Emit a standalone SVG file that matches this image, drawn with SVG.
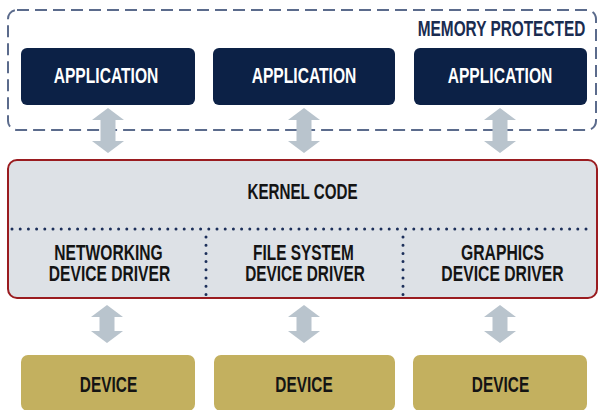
<svg xmlns="http://www.w3.org/2000/svg" width="599" height="410" viewBox="0 0 599 410">
  <style>
    .t { font-family: "Liberation Sans", Arial, sans-serif; font-weight: bold; font-size: 22px; text-anchor: middle; }
    .app rect { fill: #0c2146; }
    .app text { fill: #ffffff; }
    .dev rect { fill: #c3b05f; }
    .dev text, .drv text, #kernel text { fill: #141414; }
    .arrow { fill: #b9c4cd; }
    .dots { stroke: #1c2f5a; stroke-width: 3; stroke-linecap: round; stroke-dasharray: 0 8.2; fill: none; }
  </style>

  <g id="memory-protected">
    <rect x="8" y="10" width="588" height="120" rx="9" fill="none" stroke="#5b6b8c" stroke-width="2" stroke-dasharray="12 6"/>
    <text class="t" transform="translate(501.5 36) scale(0.70 1)" style="fill:#1a2c50">MEMORY PROTECTED</text>
  </g>

  <g id="kernel">
    <rect x="8" y="160" width="589" height="138" rx="9" fill="#dde1e6" stroke="#9a1c20" stroke-width="2"/>
    <text class="t" transform="translate(302.5 199) scale(0.69 1)">KERNEL CODE</text>
    <line class="dots" x1="12" y1="229" x2="594" y2="229"/>
    <line class="dots" x1="206" y1="237" x2="206" y2="297"/>
    <line class="dots" x1="403" y1="237" x2="403" y2="297"/>
  </g>

  <g id="app1" class="app">
    <rect x="21" y="48" width="174" height="57" rx="6"/>
    <text class="t" transform="translate(106 83) scale(0.71 1)">APPLICATION</text>
  </g>
  <g id="app2" class="app">
    <rect x="213" y="48" width="182" height="57" rx="6"/>
    <text class="t" transform="translate(304 83) scale(0.71 1)">APPLICATION</text>
  </g>
  <g id="app3" class="app">
    <rect x="414" y="48" width="173" height="57" rx="6"/>
    <text class="t" transform="translate(500 83) scale(0.71 1)">APPLICATION</text>
  </g>

  <g id="driver-networking" class="drv">
    <text class="t" transform="translate(108.5 260) scale(0.71 1)"><tspan x="0" y="0">NETWORKING</tspan><tspan x="1.4" y="21">DEVICE DRIVER</tspan></text>
  </g>
  <g id="driver-filesystem" class="drv">
    <text class="t" transform="translate(303.5 260) scale(0.70 1)"><tspan x="0" y="0">FILE SYSTEM</tspan><tspan x="2.1" y="21">DEVICE DRIVER</tspan></text>
  </g>
  <g id="driver-graphics" class="drv">
    <text class="t" transform="translate(502.5 260) scale(0.715 1)"><tspan x="0" y="0">GRAPHICS</tspan><tspan x="0" y="21">DEVICE DRIVER</tspan></text>
  </g>

  <g id="dev1" class="dev">
    <rect x="21" y="355" width="174" height="56" rx="7"/>
    <text class="t" transform="translate(108.5 392) scale(0.70 1)">DEVICE</text>
  </g>
  <g id="dev2" class="dev">
    <rect x="214" y="355" width="181" height="56" rx="7"/>
    <text class="t" transform="translate(304 392) scale(0.70 1)">DEVICE</text>
  </g>
  <g id="dev3" class="dev">
    <rect x="413" y="355" width="174" height="56" rx="7"/>
    <text class="t" transform="translate(500.5 392) scale(0.70 1)">DEVICE</text>
  </g>

  <g id="connectors">
    <path class="arrow" d="M108 108 L124 120 L115.5 120 L115.5 141 L124 141 L108 153 L92 141 L100.5 141 L100.5 120 L92 120 Z"/>
    <path class="arrow" d="M304 108 L320 120 L311.5 120 L311.5 141 L320 141 L304 153 L288 141 L296.5 141 L296.5 120 L288 120 Z"/>
    <path class="arrow" d="M500 108 L516 120 L507.5 120 L507.5 141 L516 141 L500 153 L484 141 L492.5 141 L492.5 120 L484 120 Z"/>
    <path class="arrow" d="M107 305 L123 317 L114.5 317 L114.5 331 L123 331 L107 343 L91 331 L99.5 331 L99.5 317 L91 317 Z"/>
    <path class="arrow" d="M304 305 L320 317 L311.5 317 L311.5 331 L320 331 L304 343 L288 331 L296.5 331 L296.5 317 L288 317 Z"/>
    <path class="arrow" d="M500 305 L516 317 L507.5 317 L507.5 331 L516 331 L500 343 L484 331 L492.5 331 L492.5 317 L484 317 Z"/>
  </g>
</svg>
